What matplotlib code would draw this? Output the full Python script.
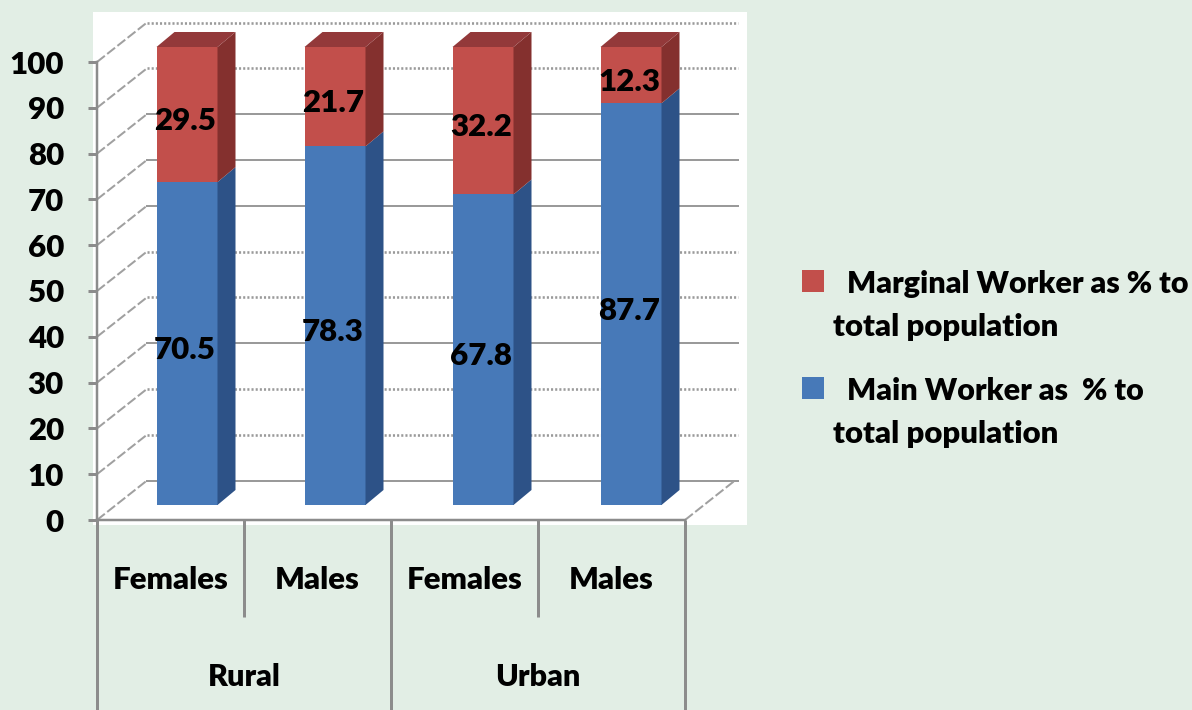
import matplotlib
matplotlib.use("Agg")
import matplotlib.pyplot as plt
from matplotlib.patches import Rectangle, Polygon

plt.rcParams['font.family'] = ['Lato', 'DejaVu Sans']

sub_labels = ["Females", "Males", "Females", "Males"]
group_labels = ["Rural", "Urban"]
main_worker = [70.5, 78.3, 67.8, 87.7]
marginal_worker = [29.5, 21.7, 32.2, 12.3]
y_ticks = [0, 10, 20, 30, 40, 50, 60, 70, 80, 90, 100]
dotted_walls = [100, 90, 50, 40, 20, 10]
legend_main = ["  Main Worker as  % to", "total population"]
legend_marginal = ["  Marginal Worker as % to", "total population"]

BG = "#E2EEE5"
GRAY = "#8C8C8C"
RED, RED_SIDE, RED_TOP = "#C24F4B", "#84302E", "#93393A"
BLUE, BLUE_SIDE = "#4779B8", "#2D5287"
WEIGHT = "heavy"

W, H = 1192, 710
fig = plt.figure(figsize=(W / 100, H / 100), dpi=100, facecolor=BG)
L, R, T, B = 97, 685, 62, 520
ax = fig.add_axes([L / W, 1 - B / H, (R - L) / W, (B - T) / H])
ax.set_xlim(0, 4)
ax.set_ylim(0, 100)
ax.patch.set_visible(False)
px = 4 / (R - L)         # data x per pixel
py = 100 / (B - T)       # data y per pixel
pt = 72 / 100            # points per pixel

# white plot panel
ax.add_patch(Rectangle((-4 * px, -5 * py), 654 * px, 513 * py, fc="white", ec="none",
                       clip_on=False, zorder=0))

# 3D walls
wx, wy = 50 * px, 39.5 * py
wall_end = 4 + 53 * px
for v in y_ticks:
    dotted = v in dotted_walls
    ax.plot([wx, wall_end], [v + wy, v + wy], color="#9A9A9A", lw=2 * pt if not dotted else 2.6 * pt,
            ls=(0, (0.8, 0.8)) if dotted else "-", clip_on=False, zorder=1)
    ax.plot([0, wx], [v, v + wy], color="#A0A0A0", lw=2 * pt, ls=(0, (5, 1.5)),
            clip_on=False, zorder=1)
ax.plot([4, 4 + wx], [0, wy], color="#A0A0A0", lw=2 * pt, ls=(0, (5, 1.5)), clip_on=False, zorder=1)

# stacked 3D bars
centers = [0.5 + (16.5 + 148 * i) * px for i in range(len(main_worker))]
bw = 61 * px
base = 15 * py
dx, dy = 18 * px, 15 * py
for c, m, g in zip(centers, main_worker, marginal_worker):
    x1 = c + bw / 2
    x0 = c - bw / 2
    ax.bar(c, m, bw, bottom=base, color=BLUE, zorder=3, clip_on=False)
    ax.bar(c, g, bw, bottom=base + m, color=RED, zorder=3, clip_on=False)
    ax.add_patch(Polygon([(x1, base), (x1 + dx, base + dy), (x1 + dx, base + m + dy), (x1, base + m)],
                         fc=BLUE_SIDE, ec="none", zorder=3, clip_on=False))
    ax.add_patch(Polygon([(x1, base + m), (x1 + dx, base + m + dy), (x1 + dx, base + m + g + dy),
                          (x1, base + m + g)], fc=RED_SIDE, ec="none", zorder=3, clip_on=False))
    ax.add_patch(Polygon([(x0, base + m + g), (x0 + dx, base + m + g + dy), (x1 + dx, base + m + g + dy),
                          (x1, base + m + g)], fc=RED_TOP, ec="none", zorder=3, clip_on=False))
    ax.text(c - 2 * px, base + m / 2 - 1.4, f"{m}", ha="center", va="center", fontsize=22.5,
            fontweight=WEIGHT, color="black", zorder=5)
    ax.text(c - 2 * px, base + m + g / 2 - 1.4, f"{g}", ha="center", va="center", fontsize=22.5,
            fontweight=WEIGHT, color="black", zorder=5)

# axes
for s in ("top", "right"):
    ax.spines[s].set_visible(False)
for s in ("left", "bottom"):
    ax.spines[s].set_color(GRAY)
    ax.spines[s].set_linewidth(2.5 * pt)
    ax.spines[s].set_zorder(2)
ax.set_yticks(y_ticks)
ax.tick_params(axis="y", length=9 * pt, width=3 * pt, color=GRAY, pad=24 * pt,
               labelsize=22.5)
for t in ax.get_yticklabels():
    t.set_fontweight(WEIGHT)
ax.set_xticks([i + 0.5 for i in range(len(sub_labels))], sub_labels)
ax.tick_params(axis="x", length=0, pad=46 * pt, labelsize=22.4)
for t in ax.get_xticklabels():
    t.set_fontweight(WEIGHT)

# multi-level category separators
for x, bottom in zip([0, 1, 2, 3, 4], [710, 617, 710, 617, 710]):
    ax.plot([x, x], [0, -(bottom - B) * py], color=GRAY, lw=3 * pt, clip_on=False, zorder=2,
            solid_capstyle="butt")
for i, lab in enumerate(group_labels):
    ax.text(2 * i + 1, -(677 - B) * py, lab, ha="center", va="center", fontsize=22,
            fontweight=WEIGHT, color="black")

# legend
def legend_entry(y_box, lines, color):
    fig.patches.append(Rectangle((802 / W, 1 - (y_box + 11) / H), 22 / W, 22 / H, fc=color, ec="none",
                                 transform=fig.transFigure))
    fig.text(833 / W, 1 - (y_box + 3) / H, lines[0], ha="left", va="center", fontsize=22, fontweight=WEIGHT)
    fig.text(833 / W, 1 - (y_box + 46) / H, lines[1], ha="left", va="center", fontsize=22.4, fontweight=WEIGHT)

legend_entry(281, legend_marginal, RED)
legend_entry(388, legend_main, BLUE)

fig.savefig("out.png", dpi=100, facecolor=BG)
